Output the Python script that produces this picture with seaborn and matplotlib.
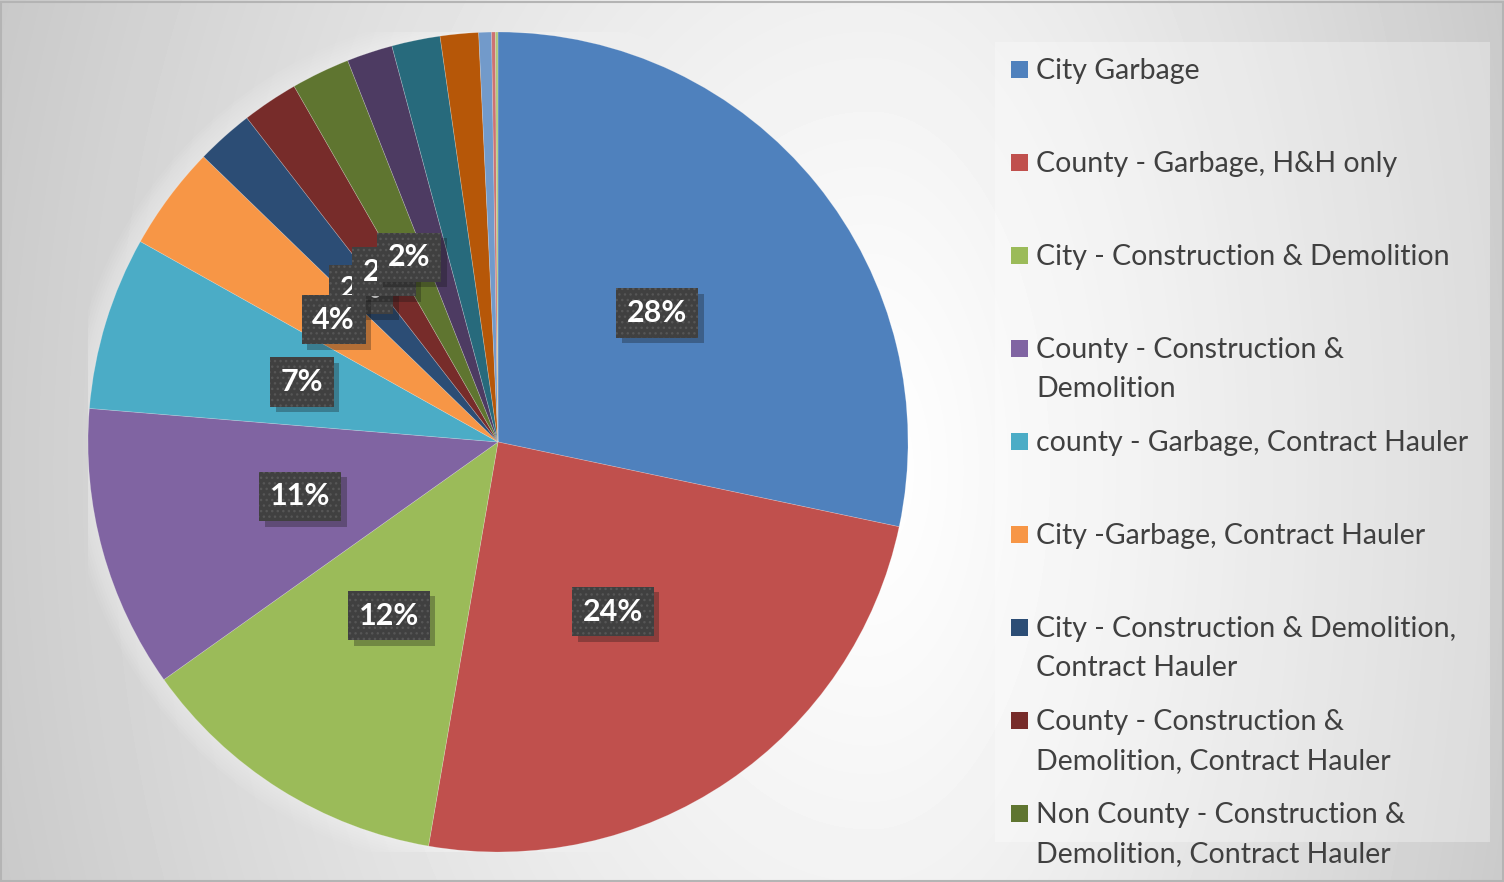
import numpy as np
import matplotlib
matplotlib.use("Agg")
import matplotlib.pyplot as plt
import matplotlib.patheffects as pe
from matplotlib.patches import Rectangle, Circle
import seaborn as sns

sns.set_theme(style="white")
plt.rcParams["font.family"] = ["Lato", "DejaVu Sans"]

# share of each slice (%), clockwise from 12 o'clock
shares = [28.2, 24.3, 12.4, 11.1, 6.8, 4.1, 2.25, 2.2, 2.3, 1.8, 1.9, 1.5, 0.5, 0.15, 0.1]

# legend entries that fit in the chart's legend box
legend_labels = [
    "City Garbage",
    "County - Garbage, H&H only",
    "City - Construction & Demolition",
    "County - Construction &\nDemolition",
    "county - Garbage, Contract Hauler",
    "City -Garbage, Contract Hauler",
    "City - Construction & Demolition,\nContract Hauler",
    "County - Construction &\nDemolition, Contract Hauler",
    "Non County - Construction &\nDemolition, Contract Hauler",
]

colors = ["#4F81BD", "#C0504D", "#9BBB59", "#8064A2", "#4BACC6", "#F79646",
          "#2C4D75", "#772C2A", "#5F7530", "#4D3B62", "#276A7C", "#B65708",
          "#729ACA", "#CD7371", "#AFC97A"]

W, H = 1504, 882
fig = plt.figure(figsize=(W / 100, H / 100), dpi=100)

# background: soft gray gradient, pixel coords (y down)
bg = fig.add_axes([0, 0, 1, 1], zorder=0)
yy, xx = np.mgrid[0:H, 0:W]
dx = (xx - 870) / np.where(xx < 870, 950, 700)
dy = (yy - 470) / 1400
v = np.clip(1 - 0.22 * np.sqrt(dx**2 + dy**2) ** 1.2, 0, 1)
bg.imshow(v, cmap="gray", vmin=0, vmax=1, extent=(0, W, H, 0),
          aspect="auto", interpolation="bilinear")
bg.set_xlim(0, W)
bg.set_ylim(H, 0)
bg.set_axis_off()
bg.add_patch(Rectangle((1, 2), W - 2, H - 3, fill=False, edgecolor="#b4b4b4", lw=1.5))

# legend box + entries
bg.add_patch(Rectangle((995, 42), 495, 800, facecolor="white", alpha=0.3, edgecolor="none"))
for i, (name, col) in enumerate(zip(legend_labels, colors)):
    yc = 69 + 93 * i
    bg.add_patch(Rectangle((1011, yc - 8.5), 17, 17, facecolor=col, edgecolor="none"))
    for j, line in enumerate(name.split("\n")):
        bg.text(1036, yc + 10 + 39 * j, line, fontsize=20.5, color="#404040",
                ha="left", va="baseline")

# pie
ax = fig.add_axes([88 / W, 1 - 852 / H, 820 / W, 820 / H], zorder=1)
ax.patch.set_alpha(0)
for r in np.linspace(1.005, 1.05, 8):
    ax.add_patch(Circle((0, 0), r, facecolor="white", alpha=0.06, lw=0, zorder=0.5))

wedges, _, autotexts = ax.pie(
    shares, colors=colors, startangle=90, counterclock=False,
    autopct=lambda p: f"{p:.0f}%" if p >= 2 else "", pctdistance=0.5,
    wedgeprops=dict(linewidth=0.5, edgecolor=(1, 1, 1, 0.25)))
ax.set_xlim(-1, 1)
ax.set_ylim(-1, 1)
ax.set_axis_off()

for i, t in enumerate(autotexts):
    if not t.get_text():
        continue
    t.set_color("white")
    t.set_fontsize(22)
    t.set_fontweight("bold")
    t.set_bbox(dict(boxstyle="square,pad=0.35", facecolor="#404040",
                    edgecolor="#565656", hatch="...", linewidth=0))
    t.get_bbox_patch().set_path_effects(
        [pe.SimplePatchShadow(offset=(4, -4), alpha=0.3, hatch=None), pe.Normal()])
    t.set_zorder(20 if i == 5 else 10 + i)

fig.savefig("out.png", dpi=100)
